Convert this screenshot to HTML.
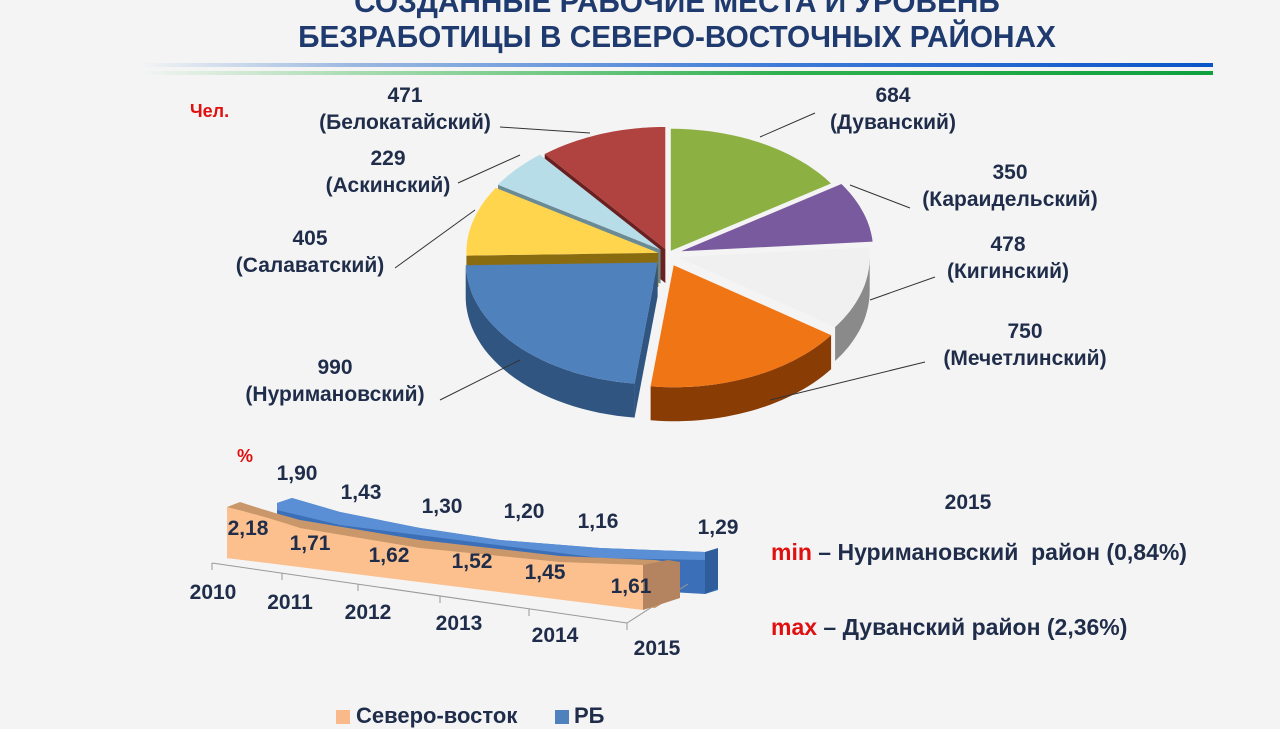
<!DOCTYPE html>
<html><head><meta charset="utf-8">
<style>
body{margin:0;width:1280px;height:720px;overflow:hidden;background:#f4f4f4;font-family:"Liberation Sans",sans-serif;position:relative}
.t{position:absolute;font-weight:bold;color:#1f2d4a;font-size:21px;white-space:nowrap;text-align:center;line-height:27px;transform:translateX(-50%)}
.l{position:absolute;font-weight:bold;color:#1f2d4a;font-size:22px;white-space:nowrap;line-height:27px}
.title{position:absolute;left:37px;width:1280px;text-align:center;font-weight:bold;color:#1f3a6e;font-size:31px;transform:scaleX(0.96);white-space:nowrap}
.r{color:#e01010}
</style></head><body>
<div class="title" style="top:-16px">СОЗДАННЫЕ РАБОЧИЕ МЕСТА И УРОВЕНЬ</div>
<div class="title" style="top:19px">БЕЗРАБОТИЦЫ В СЕВЕРО-ВОСТОЧНЫХ РАЙОНАХ</div>
<div style="position:absolute;left:140px;top:63px;width:1073px;height:4px;background:linear-gradient(to right,#f4f4f4,#9ab8e0 20%,#3d7ad8 60%,#0a55c8)"></div>
<div style="position:absolute;left:140px;top:71px;width:1073px;height:4px;background:linear-gradient(to right,#f4f4f4,#a8dcb0 20%,#30b050 60%,#10a040)"></div>
<svg id="s" width="1280" height="720" style="position:absolute;left:0;top:0"></svg>
<div class="l r" style="left:190px;top:98px;font-size:18px">Чел.</div>
<div class="t" style="left:405px;top:82px">471<br>(Белокатайский)</div>
<div class="t" style="left:388px;top:145px">229<br>(Аскинский)</div>
<div class="t" style="left:310px;top:225px">405<br>(Салаватский)</div>
<div class="t" style="left:335px;top:354px">990<br>(Нуримановский)</div>
<div class="t" style="left:893px;top:82px">684<br>(Дуванский)</div>
<div class="t" style="left:1010px;top:159px">350<br>(Караидельский)</div>
<div class="t" style="left:1008px;top:231px">478<br>(Кигинский)</div>
<div class="t" style="left:1025px;top:318px">750<br>(Мечетлинский)</div>
<div class="l r" style="left:237px;top:443px;font-size:18px">%</div>
<div class="t" style="left:297px;top:460px">1,90</div>
<div class="t" style="left:361px;top:479px">1,43</div>
<div class="t" style="left:442px;top:493px">1,30</div>
<div class="t" style="left:524px;top:498px">1,20</div>
<div class="t" style="left:598px;top:508px">1,16</div>
<div class="t" style="left:718px;top:514px">1,29</div>
<div class="t" style="left:248px;top:515px">2,18</div>
<div class="t" style="left:310px;top:530px">1,71</div>
<div class="t" style="left:389px;top:542px">1,62</div>
<div class="t" style="left:472px;top:548px">1,52</div>
<div class="t" style="left:545px;top:559px">1,45</div>
<div class="t" style="left:631px;top:573px">1,61</div>
<div class="t" style="left:213px;top:579px">2010</div>
<div class="t" style="left:290px;top:589px">2011</div>
<div class="t" style="left:368px;top:599px">2012</div>
<div class="t" style="left:459px;top:610px">2013</div>
<div class="t" style="left:555px;top:622px">2014</div>
<div class="t" style="left:657px;top:635px">2015</div>
<div class="t" style="left:968px;top:489px">2015</div>
<div class="l" style="left:771px;top:539px;font-size:23px"><span class="r">min</span> – Нуримановский&nbsp; район (0,84%)</div>
<div class="l" style="left:771px;top:614px;font-size:23px"><span class="r">max</span> – Дуванский район (2,36%)</div>
<div style="position:absolute;left:336px;top:710px;width:14px;height:14px;background:#f9b98a"></div>
<div class="l" style="left:356px;top:702px">Северо-восток</div>
<div style="position:absolute;left:555px;top:710px;width:14px;height:14px;background:#4f81bd"></div>
<div class="l" style="left:574px;top:702px">РБ</div>
<script>
var s=document.getElementById('s'),h='';
h+='<polygon points="277,503 292,498 340,512 420,528 500,540 600,548 705,552 718,550 718,590 705,594 600,588 340,548 277,530" fill="#3b6fb8"/>';
h+='<polygon points="277,503 292,498 340,512 420,528 500,540 600,548 705,552 705,560 600,558 340,525 277,510" fill="#5b8fd5"/>';
h+='<polygon points="705,552 718,548 718,588 705,594" fill="#2f5c9a"/>';
h+='<line x1="212" y1="563" x2="627" y2="623" stroke="#999"/><line x1="627" y1="623" x2="688" y2="584" stroke="#999"/>';
[[212,563],[282,573],[358,584],[440,596],[529,609],[627,623]].forEach(function(p){h+='<line x1="'+p[0]+'" y1="'+p[1]+'" x2="'+p[0]+'" y2="'+(p[1]+7)+'" stroke="#999"/>'});
h+='<path d="M227,507 L240,502 Q270,512 300,520 L420,540 L560,556 L655,560 L668,562 L668,600 L655,608 L227,558 Z" fill="#c9976a"/>';
h+='<path d="M227,507 Q260,515 300,528 L420,548 L560,562 L643,565 L643,610 L227,558 Z" fill="#fbc08e"/>';
h+='<polygon points="643,565 668,560 680,562 680,598 643,610" fill="#b48460"/>';
var cx=668,cy=255,rx=192,ry=122,d=34;
var data=[[684,'#8db043','#5f7a2c'],[350,'#7a5a9e','#4a3566'],[478,'#f0f0f0','#8a8a8a'],[750,'#f07515','#8a3c05'],[990,'#4f81bd','#2f5580'],[405,'#ffd54d','#8a6c10'],[229,'#b7dde8','#6a8a95'],[471,'#b0433f','#6a2020']];
var ex=[6,14,10,14,14,10,10,8];
var tot=0;data.forEach(function(x){tot+=x[0]});
var a=0,sl=[];
data.forEach(function(x,i){var b=a+x[0]/tot*2*Math.PI;sl.push([a,b,x,ex[i]]);a=b;});
function P(t,ox,oy,dy){return [cx+ox+rx*Math.sin(t),cy+oy-ry*Math.cos(t)+(dy||0)]}
var sides='',tops='';
sl.forEach(function(q){
 var m=(q[0]+q[1])/2,ox=q[3]*Math.sin(m),oy=q[3]*Math.cos(m)*-0.8;
 var s0=Math.max(q[0],Math.PI/2),s1=Math.min(q[1],3*Math.PI/2);
 if(s1>s0){var pts=[];for(var k=0;k<=30;k++){var t=s0+(s1-s0)*k/30;pts.push(P(t,ox,oy))}
  var bot=[];for(var k=30;k>=0;k--){var t=s0+(s1-s0)*k/30;bot.push(P(t,ox,oy,d))}
  sides+='<polygon points="'+pts.concat(bot).map(function(p){return p[0].toFixed(1)+','+p[1].toFixed(1)}).join(' ')+'" fill="'+q[2][2]+'"/>';}
 var c=[cx+ox,cy+oy];
 var e=[c,[c[0],c[1]+d],P(q[0],ox,oy,d),P(q[0],ox,oy)];
 if(q[0]>Math.PI)sides='<polygon points="'+e.map(function(p){return p.join(',')}).join(' ')+'" fill="'+q[2][2]+'"/>'+sides;
 var pts=[c];for(var k=0;k<=40;k++){var t=q[0]+(q[1]-q[0])*k/40;pts.push(P(t,ox,oy))}
 tops+='<polygon points="'+pts.map(function(p){return p[0].toFixed(1)+','+p[1].toFixed(1)}).join(' ')+'" fill="'+q[2][1]+'"/>';
});
h+=sides+tops;
var L=[[500,127,590,133],[458,183,520,155],[395,268,475,210],[440,400,520,360],[815,113,760,137],[910,208,850,185],[935,277,870,300],[925,362,770,400]];
L.forEach(function(l){h+='<line x1="'+l[0]+'" y1="'+l[1]+'" x2="'+l[2]+'" y2="'+l[3]+'" stroke="#333" stroke-width="1"/>'});
s.innerHTML=h;
</script>
</body></html>
